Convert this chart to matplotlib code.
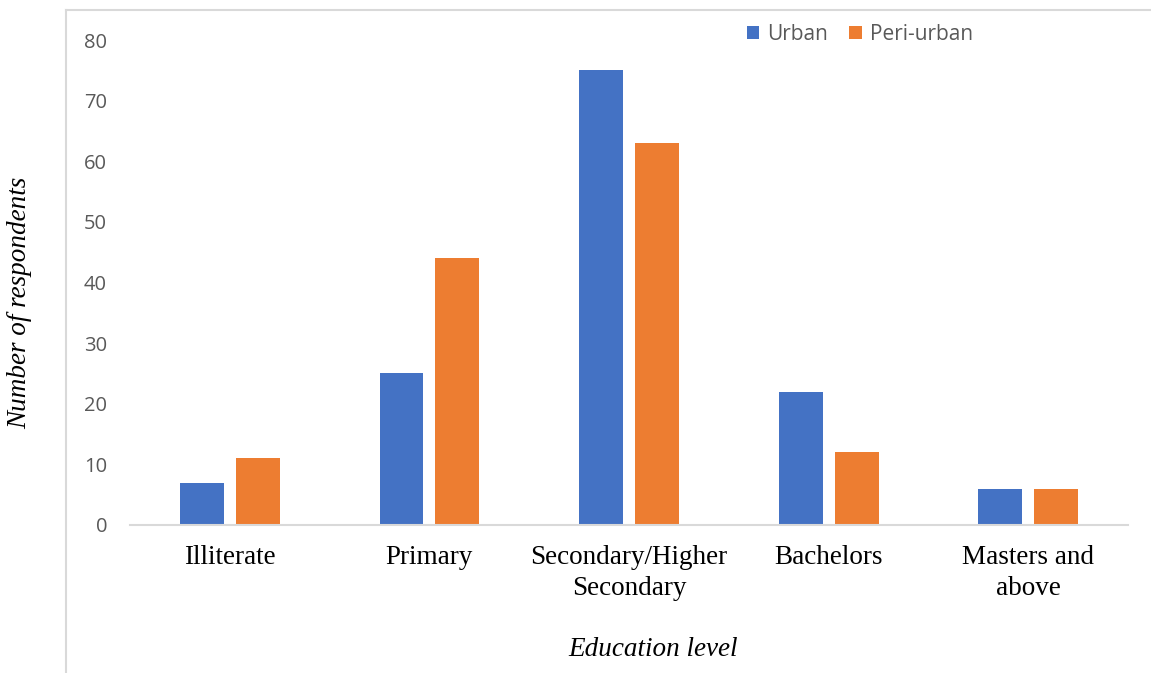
import matplotlib
matplotlib.use("Agg")
import matplotlib.pyplot as plt
from matplotlib.lines import Line2D
import numpy as np

categories = ["Illiterate", "Primary", "Secondary/Higher\nSecondary", "Bachelors", "Masters and\nabove"]
urban = [7, 25, 75, 22, 6]
peri_urban = [11, 44, 63, 12, 6]
yticks = [0, 10, 20, 30, 40, 50, 60, 70, 80]

W, H = 1151, 673
fig = plt.figure(figsize=(W/100, H/100), dpi=100)
ax = fig.add_axes([130/W, 1-525/H, (1128-130)/W, (525-40)/H])

x = np.arange(len(categories))
bw = 0.22
ax.bar(x - 0.14, urban, bw, color="#4472C4", label="Urban")
ax.bar(x + 0.14, peri_urban, bw, color="#ED7D31", label="Peri-urban")

ax.set_xlim(-0.5, len(categories) - 0.5)
ax.set_ylim(0, 80)
ax.set_yticks(yticks)
ax.set_yticklabels([str(v) for v in yticks], fontsize=14.5, color="#595959", family="Open Sans")
ax.set_xticks(x)
ax.set_xticklabels(categories, fontsize=19.5, family="Liberation Serif", color="black", linespacing=1.32)
ax.tick_params(axis="both", length=0)
ax.tick_params(axis="x", pad=14.5)
ax.tick_params(axis="y", pad=16.5)
for s in ["top", "right", "left"]:
    ax.spines[s].set_visible(False)
ax.spines["bottom"].set_color("#d9d9d9")
ax.spines["bottom"].set_linewidth(1.5)

fig.text(653/W, 1-650/H, "Education level", ha="center", va="center", fontsize=19.5,
         family="Liberation Serif", style="italic")
fig.text(20/W, 1-303/H, "Number of respondents", ha="center", va="center", fontsize=19.5,
         family="Liberation Serif", style="italic", rotation=90)

leg = fig.legend(loc="center", bbox_to_anchor=(860/W, 1-34/H), ncol=2, frameon=False,
                 prop={"family": "Open Sans", "size": 15}, handlelength=0.6, handleheight=0.6,
                 handletextpad=0.4, columnspacing=1.0)
for t in leg.get_texts():
    t.set_color("#595959")

fig.add_artist(Line2D([66/W, 66/W], [0, 1-10/H], color="#d9d9d9", lw=1.5, transform=fig.transFigure))
fig.add_artist(Line2D([66/W, 1], [1-10/H, 1-10/H], color="#d9d9d9", lw=1.5, transform=fig.transFigure))

fig.savefig("out.png", dpi=100)
